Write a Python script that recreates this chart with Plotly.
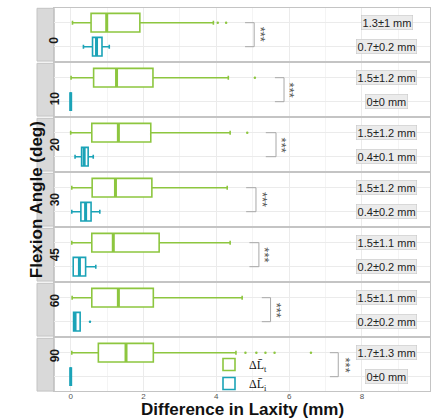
import plotly.graph_objects as go

# ---------------- data ----------------
angles = ["0", "10", "20", "30", "45", "60", "90"]

t_lower = [0.05, 0.01, 0.00, 0.03, 0.03, 0.04, 0.03]
t_q1 = [0.56, 0.63, 0.58, 0.59, 0.58, 0.58, 0.76]
t_med = [0.99, 1.26, 1.31, 1.23, 1.17, 1.31, 1.52]
t_q3 = [1.90, 2.26, 2.20, 2.23, 2.43, 2.27, 2.27]
t_upper = [3.92, 4.33, 4.38, 4.30, 4.38, 4.71, 4.54]
t_out = [[4.04, 4.27], [5.06], [4.85], [], [], [], [4.8, 5.1, 5.35, 5.6, 6.6]]

i_lower = [0.35, 0.0, 0.12, 0.03, 0.07, 0.08, 0.0]
i_q1 = [0.60, 0.0, 0.30, 0.28, 0.07, 0.08, 0.0]
i_med = [0.71, 0.0, 0.37, 0.41, 0.24, 0.12, 0.0]
i_q3 = [0.86, 0.0, 0.48, 0.56, 0.41, 0.26, 0.0]
i_upper = [1.06, 0.0, 0.62, 0.80, 0.69, 0.26, 0.0]
i_out = [[], [], [], [], [], [0.53], []]

t_labels = ["1.3±1 mm", "1.5±1.2 mm", "1.5±1.2 mm", "1.5±1.2 mm",
            "1.5±1.1 mm", "1.5±1.1 mm", "1.7±1.3 mm"]
i_labels = ["0.7±0.2 mm", "0±0 mm", "0.4±0.1 mm", "0.4±0.2 mm",
            "0.2±0.2 mm", "0.2±0.2 mm", "0±0 mm"]
label_x = 8.68

bracket_x0 = [4.79, 5.61, 5.36, 4.82, 4.91, 5.25, 7.12]
bracket_x1 = [5.04, 5.86, 5.64, 5.09, 5.17, 5.49, 7.35]
star_x = [5.20, 6.00, 5.78, 5.25, 5.32, 5.64, 7.54]
star_text = "***"

x_ticks = [0, 2, 4, 6, 8]
legend_names = ["ΔL\u0304<sub>t</sub>", "ΔL\u0304<sub>i</sub>"]

# ---------------- style ----------------
W, H = 435, 419
GREEN = "#8DC63F"
TEAL = "#1BA3B7"
BOXW = 0.78
X_LEFT_PX, X_RIGHT_PX = 54.3, 430
TOP0, STEP, PH = 8.3, 55.0, 52.8
STRIP_L = 37.0

fig = go.Figure()
layout = {}
shapes = []
annotations = []

def ydom(i):
    top = TOP0 + i * STEP
    bot = top + PH
    return [1 - bot / H, 1 - top / H]

for i, ang in enumerate(angles):
    n = i + 1
    xa = "x" if n == 1 else f"x{n}"
    ya = "y" if n == 1 else f"y{n}"
    last = (i == len(angles) - 1)

    layout["xaxis" if n == 1 else f"xaxis{n}"] = dict(
        domain=[X_LEFT_PX / W, X_RIGHT_PX / W],
        range=[-0.45, 9.87],
        anchor=ya,
        matches=None if n == 1 else "x",
        tickvals=x_ticks,
        showticklabels=last,
        ticks="",
        ticklabelstandoff=-3,
        tickfont=dict(family="Liberation Sans", size=8, color="#555555"),
        showgrid=True, gridcolor="#EBEBEB", gridwidth=1,
        minor=dict(dtick=1, tick0=0, showgrid=True, gridcolor="#F4F4F4", gridwidth=0.6),
        zeroline=False,
        showline=True, mirror=True, linecolor="#C4C4C4", linewidth=1,
    )
    layout["yaxis" if n == 1 else f"yaxis{n}"] = dict(
        domain=ydom(i),
        range=[2.6, 0.4],
        anchor=xa,
        tickvals=[1, 2],
        showticklabels=False,
        showgrid=True, gridcolor="#EBEBEB", gridwidth=1,
        zeroline=False,
        showline=True, mirror=True, linecolor="#C4C4C4", linewidth=1,
    )

    # boxes
    for pos, col, lo, q1, md, q3, up, outs, nm in [
        (1, GREEN, t_lower[i], t_q1[i], t_med[i], t_q3[i], t_upper[i], t_out[i], legend_names[0]),
        (2, TEAL, i_lower[i], i_q1[i], i_med[i], i_q3[i], i_upper[i], i_out[i], legend_names[1]),
    ]:
        fig.add_trace(go.Box(
            orientation="h", y=[pos], q1=[q1], median=[md], q3=[q3],
            lowerfence=[lo], upperfence=[up],
            width=BOXW, whiskerwidth=0.22,
            fillcolor="white", line=dict(color=col, width=1.6),
            boxpoints=False, name=nm, legendgroup=nm,
            showlegend=(last), xaxis=xa, yaxis=ya,
            hoverinfo="skip",
        ))
        # thicker median line
        fig.add_trace(go.Scatter(
            x=[md, md], y=[pos - BOXW / 2, pos + BOXW / 2], mode="lines",
            line=dict(color=col, width=3), showlegend=False,
            xaxis=xa, yaxis=ya, hoverinfo="skip",
        ))
        if outs:
            fig.add_trace(go.Scatter(
                x=outs, y=[pos] * len(outs), mode="markers",
                marker=dict(color=col, size=2.5), showlegend=False,
                xaxis=xa, yaxis=ya, hoverinfo="skip",
            ))

    # significance bracket
    fig.add_trace(go.Scatter(
        x=[bracket_x0[i], bracket_x1[i], bracket_x1[i], bracket_x0[i]],
        y=[1, 1, 2, 2], mode="lines",
        line=dict(color="#A8A8A8", width=1), showlegend=False,
        xaxis=xa, yaxis=ya, hoverinfo="skip",
    ))
    annotations.append(dict(
        x=star_x[i], y=1.5, xref=xa, yref=ya, text=star_text, showarrow=False,
        textangle=90, font=dict(family="Liberation Sans", size=13, color="#555555"),
    ))

    # mean ± sd labels
    for pos, txt in [(1, t_labels[i]), (2, i_labels[i])]:
        annotations.append(dict(
            x=label_x, y=pos, xref=xa, yref=ya, text=txt, showarrow=False,
            font=dict(family="Liberation Sans", size=11, color="#222222"),
            bgcolor="#EBEBEB", bordercolor="#C8C8C8", borderwidth=0.6, borderpad=1,
        ))

    # strip
    d = ydom(i)
    shapes.append(dict(
        type="rect", xref="paper", yref="paper",
        x0=STRIP_L / W, x1=X_LEFT_PX / W, y0=d[0], y1=d[1],
        fillcolor="#D9D9D9", line=dict(color="#C4C4C4", width=1), layer="below",
    ))
    annotations.append(dict(
        x=(STRIP_L + X_LEFT_PX) / 2 / W, y=(d[0] + d[1]) / 2, xref="paper", yref="paper",
        text=f"<b>{ang}</b>", showarrow=False, textangle=-90,
        font=dict(family="Liberation Sans", size=12, color="#1A1A1A"),
    ))

# axis titles
annotations.append(dict(
    x=(X_LEFT_PX + X_RIGHT_PX) / 2 / W, y=1 - 409.5 / H, xref="paper", yref="paper",
    text="<b>Difference in Laxity (mm)</b>", showarrow=False, yanchor="middle",
    font=dict(family="Liberation Sans", size=17, color="#111111"),
))
annotations.append(dict(
    x=25 / W, y=1 - 199.7 / H, xref="paper", yref="paper",
    text="<b>Flexion Angle (deg)</b>", showarrow=False, textangle=-90,
    font=dict(family="Liberation Sans", size=17, color="#111111"),
))

fig.update_layout(
    **layout,
    width=W, height=H,
    margin=dict(l=0, r=0, t=0, b=0),
    paper_bgcolor="white", plot_bgcolor="white",
    shapes=shapes, annotations=annotations,
    showlegend=True,
    legend=dict(
        x=209 / W, y=1 - 350 / H, xanchor="left", yanchor="top",
        bgcolor="rgba(0,0,0,0)", itemwidth=30, tracegroupgap=0,
        font=dict(family="Liberation Serif", size=12, color="#111111"),
    ),
)

fig.write_html(
    "out.html",
    config={"displayModeBar": False},
    post_script="document.body.style.margin='0';document.body.style.overflow='hidden';",
)
